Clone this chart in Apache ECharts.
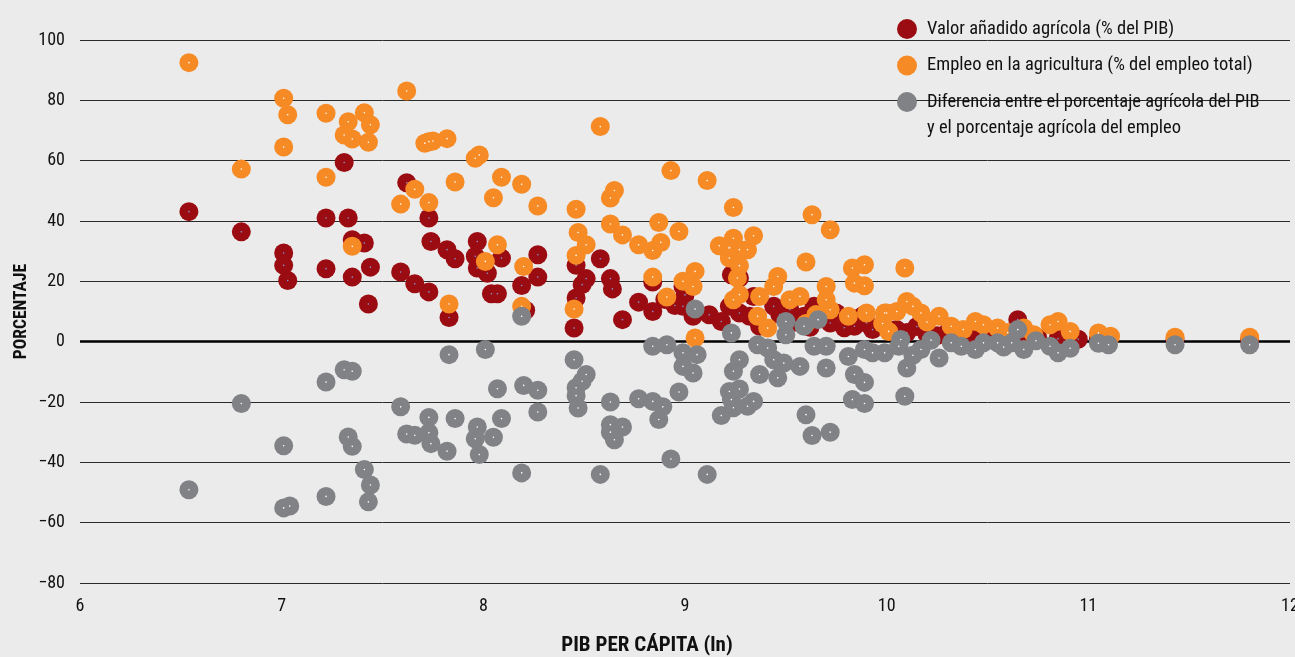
<!DOCTYPE html>
<html>
<head>
<meta charset="utf-8">
<script src="https://cdn.jsdelivr.net/npm/echarts@6/dist/echarts.min.js"></script>
<style>
html,body{margin:0;padding:0;background:#ebebeb;}
#chart{width:1295px;height:657px;}
</style>
</head>
<body>
<div id="chart"></div>
<script>
var FONT = '"Roboto Condensed","Liberation Sans",sans-serif';

var seriesNames = [
  'Valor añadido agrícola (% del PIB)',
  'Empleo en la agricultura (% del empleo total)',
  'Diferencia entre el porcentaje agrícola del PIB'
];
var legendSecondLine = 'y el porcentaje agrícola del empleo';
var xAxisName = 'PIB PER CÁPITA (ln)';
var yAxisName = 'PORCENTAJE';
var xTicks = [6, 7, 8, 9, 10, 11, 12];
var yTicks = [-80, -60, -40, -20, 0, 20, 40, 60, 80, 100];

var valorAnadido = [
  [6.54,43.1],[6.80,36.4],[7.01,29.4],[7.01,25.3],[7.03,20.3],[7.22,41.0],[7.22,24.2],[7.31,59.4],
  [7.33,41.0],[7.35,33.8],[7.41,32.7],[7.35,21.4],[7.44,24.7],[7.43,12.5],[7.59,23.1],
  [7.62,52.7],[7.73,41.0],[7.74,33.2],[7.82,30.5],[7.86,27.5],[7.97,33.2],[7.96,28.3],[7.97,24.4],
  [8.02,22.7],[8.09,27.7],[8.04,15.9],[8.07,15.9],[7.66,19.2],[7.73,16.5],[7.83,8.0],[8.19,18.6],
  [8.27,28.8],[8.27,21.4],[8.21,10.4],[8.46,25.3],[8.51,20.9],[8.49,18.9],[8.46,14.5],[8.45,4.5],
  [8.58,27.5],[8.63,20.9],[8.64,17.5],[8.69,7.3],[8.77,13.1],[8.84,10.0],[8.84,19.8],
  [8.99,18.3],[8.99,11.7],[9.04,8.4],[9.12,8.9],[9.18,6.7],[9.23,22.2],[9.27,21.1],[9.22,11.7],
  [9.27,9.5],[9.34,15.0],[9.32,8.4],[9.44,11.7],[9.37,5.1],[9.52,10.6],[9.64,11.7],[9.72,6.2],
  [9.84,5.1],[9.90,6.2],[9.99,5.1],[10.02,3.4],[9.79,4.6],[9.59,8.4],[9.69,8.4],[8.90,14.0],
  [8.95,12.0],[9.00,15.5],[9.47,9.0],[9.55,6.5],[9.62,4.8],[9.75,9.5],[9.88,8.5],[9.93,4.0],
  [10.05,4.0],[10.10,3.0],[10.15,5.0],[10.20,2.5],[10.25,2.0],[10.30,3.0],[10.35,1.5],[10.40,1.8],
  [10.45,1.2],[10.50,1.5],[10.55,2.0],[10.60,1.0],[10.65,7.3],[10.70,1.5],[10.75,1.2],[10.85,1.0],
  [10.93,0.7],[10.95,0.8],[11.05,0.8],[11.10,1.0],[11.43,0.5],[11.80,0.4]
];

var empleoAgricultura = [
  [6.54,92.5],[6.80,57.2],[7.01,80.7],[7.03,75.2],[7.01,64.5],[7.22,75.7],[7.22,54.5],[7.33,72.9],
  [7.41,75.9],[7.44,71.9],[7.31,68.5],[7.35,67.2],[7.43,66.1],[7.35,31.6],[7.62,83.1],[7.59,45.6],
  [7.71,65.8],[7.73,66.3],[7.75,66.5],[7.82,67.3],[7.96,60.8],[7.98,61.9],[7.66,50.5],[7.73,46.1],
  [7.86,52.9],[8.09,54.5],[8.19,52.2],[8.05,47.7],[8.27,45.0],[8.07,32.1],[8.01,26.6],[7.83,12.5],
  [8.20,24.9],[8.19,11.7],[8.46,43.9],[8.47,36.2],[8.51,32.1],[8.46,28.6],[8.45,10.8],[8.58,71.3],
  [8.63,47.6],[8.65,50.1],[8.63,39.0],[8.69,35.4],[8.77,32.1],[8.84,30.2],[8.87,39.5],[8.84,21.4],
  [8.93,56.7],[9.11,53.4],[9.24,44.5],[8.97,36.5],[8.88,32.9],[9.17,31.8],[9.24,34.3],[9.34,35.1],
  [9.27,30.5],[9.31,30.5],[9.22,27.7],[9.27,25.2],[9.26,21.1],[9.63,42.1],[9.72,37.1],[9.60,26.4],
  [9.05,23.3],[8.99,20.0],[9.04,18.3],[8.91,14.8],[9.05,1.2],[9.24,13.9],[9.27,15.6],[9.46,21.6],
  [9.44,18.3],[9.37,15.0],[9.52,13.9],[9.57,15.0],[9.36,8.4],[9.41,4.5],[9.70,18.3],[9.70,13.9],
  [9.72,10.6],[9.83,24.4],[9.89,25.5],[9.84,19.4],[9.89,18.5],[9.81,8.4],[9.90,9.5],[9.99,9.5],
  [10.01,3.4],[10.09,24.4],[9.65,9.0],[9.60,6.0],[10.10,13.3],[10.13,11.7],[10.00,9.5],[10.17,9.5],
  [10.26,8.4],[10.32,5.1],[10.44,6.7],[10.48,5.6],[10.55,4.5],[10.38,4.0],[10.68,4.5],[10.73,2.3],
  [10.81,5.6],[10.85,6.7],[10.91,3.4],[11.05,2.9],[11.11,1.8],[11.43,1.5],[11.80,1.5],[10.05,10.0],
  [9.98,6.0],[10.20,6.5],[10.60,3.0]
];

var diferencia = [
  [6.54,-49.1],[6.80,-20.5],[7.01,-34.5],[7.01,-55.1],[7.04,-54.5],[7.22,-13.4],[7.22,-51.3],
  [7.31,-9.3],[7.35,-9.8],[7.33,-31.6],[7.35,-34.7],[7.41,-42.4],[7.44,-47.5],[7.43,-53.1],
  [7.59,-21.6],[7.62,-30.6],[7.66,-31.0],[7.73,-25.1],[7.73,-30.2],[7.74,-33.8],[7.82,-36.3],
  [7.83,-4.3],[7.86,-25.5],[7.97,-28.3],[7.96,-32.2],[7.98,-37.4],[8.01,-2.6],[8.05,-31.7],
  [8.07,-15.6],[8.09,-25.5],[8.19,8.4],[8.20,-14.5],[8.27,-16.1],[8.27,-23.3],[8.19,-43.5],
  [8.45,-6.0],[8.51,-10.9],[8.49,-13.1],[8.46,-15.3],[8.46,-17.9],[8.47,-22.0],[8.58,-44.0],
  [8.63,-20.0],[8.63,-27.5],[8.63,-30.0],[8.65,-32.5],[8.69,-28.3],[8.77,-18.9],[8.84,-19.8],
  [8.84,-1.5],[8.87,-25.8],[8.91,-1.0],[8.99,-3.7],[9.06,-4.3],[8.99,-8.2],[9.04,-10.4],
  [8.97,-16.7],[8.89,-21.6],[8.93,-38.9],[9.11,-44.0],[9.05,10.8],[9.23,2.9],[9.27,-6.0],
  [9.24,-9.8],[9.22,-16.5],[9.27,-15.7],[9.23,-19.2],[9.31,-21.4],[9.34,-19.8],[9.18,-24.5],
  [9.24,-21.9],[9.36,-1.0],[9.41,-2.1],[9.37,-10.9],[9.44,-6.0],[9.46,-12.0],[9.49,-7.1],
  [9.50,6.7],[9.50,2.3],[9.57,-8.2],[9.59,5.1],[9.66,7.3],[9.64,-1.5],[9.70,-1.5],[9.70,-8.7],
  [9.60,-24.2],[9.63,-31.1],[9.72,-30.0],[9.81,-4.9],[9.84,-10.9],[9.89,-13.5],[9.83,-19.2],
  [9.89,-20.5],[9.89,-2.6],[9.93,-3.7],[9.99,-3.7],[10.06,-1.5],[10.10,-8.7],[10.09,-18.1],
  [10.07,0.7],[10.17,-2.6],[10.22,0.5],[10.26,-5.4],[10.32,-0.4],[10.44,-2.6],[10.48,-0.4],
  [10.55,-0.4],[10.62,-0.4],[10.65,4.0],[10.68,-2.6],[10.74,0.3],[10.81,-1.5],[10.85,-3.7],
  [10.91,-2.2],[11.05,-0.5],[11.10,-1.0],[11.43,-1.0],[11.80,-1.0],[10.13,-4.5],[10.37,-1.5],
  [10.58,-1.8]
];

var colors = ['#9b0c12', '#f68a24', '#808285'];
var dotColors = ['#7f9ad8', '#ffffff', '#ffffff'];
var datasets = [valorAnadido, empleoAgricultura, diferencia];

var series = [];
datasets.forEach(function (d, i) {
  series.push({
    name: seriesNames[i],
    type: 'scatter',
    data: d,
    symbol: 'circle',
    symbolSize: 19,
    itemStyle: { color: colors[i], opacity: 1 },
    emphasis: { disabled: true },
    z: 2 + i * 2
  });
  series.push({
    name: seriesNames[i] + ' ·',
    type: 'scatter',
    data: d,
    symbol: 'circle',
    symbolSize: 1.6,
    itemStyle: { color: dotColors[i], opacity: 1 },
    silent: true,
    emphasis: { disabled: true },
    z: 3 + i * 2
  });
});
series[0].markLine = {
  silent: true,
  symbol: 'none',
  label: { show: false },
  lineStyle: { color: '#000', width: 2.5, type: 'solid' },
  data: [{ yAxis: 0 }],
  z: 1
};

var chart = echarts.init(document.getElementById('chart'));
chart.setOption({
  backgroundColor: '#ebebeb',
  animation: false,
  textStyle: { fontFamily: FONT },
  grid: { left: 80, right: 5, top: 40, bottom: 74, containLabel: false, outerBoundsMode: 'none' },
  legend: {
    data: seriesNames,
    orient: 'vertical',
    left: 892,
    top: 14,
    itemWidth: 30,
    itemHeight: 20,
    itemGap: 16.5,
    icon: 'circle',
    selectedMode: false,
    textStyle: { fontFamily: FONT, fontSize: 18.5, color: '#111', lineHeight: 20 }
  },
  graphic: [{
    type: 'text',
    left: 927,
    top: 119,
    style: { text: legendSecondLine, fontFamily: FONT, fontSize: 18.5, fill: '#111' }
  }],
  xAxis: {
    type: 'value',
    min: xTicks[0],
    max: xTicks[xTicks.length - 1],
    interval: 1,
    name: xAxisName,
    nameLocation: 'middle',
    nameGap: 52,
    nameMoveOverlap: false,
    nameTextStyle: { fontFamily: FONT, fontSize: 21, fontWeight: 'bold', color: '#111', padding: [0, 76, 0, 0] },
    axisLine: { show: false },
    axisTick: { show: false },
    splitLine: { show: false },
    axisLabel: { fontFamily: FONT, fontSize: 18, color: '#111', margin: 14 }
  },
  yAxis: {
    type: 'value',
    min: yTicks[0],
    max: yTicks[yTicks.length - 1],
    interval: 20,
    name: yAxisName,
    nameLocation: 'middle',
    nameGap: 49,
    nameMoveOverlap: false,
    nameTextStyle: { fontFamily: FONT, fontSize: 17.5, fontWeight: 'bold', color: '#111' },
    axisLine: { show: false },
    axisTick: { show: false },
    splitLine: { show: true, lineStyle: { color: '#2a2a2a', width: 1 } },
    axisLabel: {
      fontFamily: FONT, fontSize: 18, color: '#111', margin: 15,
      formatter: function (v) { return v < 0 ? '\u2212' + Math.abs(v) : String(v); }
    }
  },
  series: series
});
</script>
</body>
</html>
